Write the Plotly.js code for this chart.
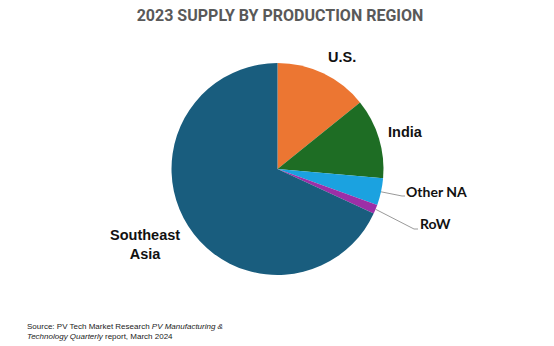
<!DOCTYPE html>
<html>
<head>
<meta charset="utf-8">
<script src="https://cdn.plot.ly/plotly-3.0.1.min.js"></script>
<style>html,body{margin:0;padding:0;background:#fff;}#chart{width:554px;height:346px;}</style>
</head>
<body>
<div id="chart"></div>
<script>
const labels = ['U.S.', 'India', 'Other NA', 'RoW', 'Southeast Asia'];
const values = [14.2, 12.2, 4.1, 1.4, 68.1];
const colors = ['#EC7632', '#1E6D24', '#1BA2E0', '#9C2FA7', '#195D7E'];
const titleText = '2023 SUPPLY BY PRODUCTION REGION';
const sourceText = 'Source: PV Tech Market Research <i>PV Manufacturing &amp;<br>Technology Quarterly</i> report, March 2024';

const W = 554, H = 346;
const cx = 277.5, cy = 169, R = 106;
const px = x => x / W;
const py = y => 1 - y / H;

// slice mid-angle edge points computed from the data
const total = values.reduce((a, b) => a + b, 0);
const edge = [];
let cum = 0;
values.forEach(v => {
  const th = 2 * Math.PI * (cum + v / 2) / total;
  edge.push([cx + R * Math.sin(th), cy - R * Math.cos(th)]);
  cum += v;
});

const lineStyle = {color: '#9a9a9a', width: 1};
function leader(i, bx, by, ex) {
  return [
    {type: 'line', xref: 'paper', yref: 'paper', x0: px(edge[i][0]), y0: py(edge[i][1]), x1: px(bx), y1: py(by), line: lineStyle},
    {type: 'line', xref: 'paper', yref: 'paper', x0: px(bx), y0: py(by), x1: px(ex), y1: py(by), line: lineStyle}
  ];
}

const boldA = {family: 'Liberation Sans, Arial, sans-serif', size: 14.5, color: '#111'};
const boldB = {family: 'Lato, sans-serif', size: 14, color: '#111', weight: 'bold'};

function lab(text, x, y, anchor, font) {
  return {text: '<b>' + text + '</b>', xref: 'paper', yref: 'paper', x: px(x), y: py(y),
          xanchor: anchor, yanchor: 'middle', showarrow: false, font: font, align: 'center'};
}

const data = [{
  type: 'pie',
  labels: labels,
  values: values,
  sort: false,
  direction: 'clockwise',
  rotation: 0,
  textinfo: 'none',
  hoverinfo: 'label+percent',
  marker: {colors: colors, line: {width: 0}},
  domain: {x: [px(cx - R), px(cx + R)], y: [py(cy + R), py(cy - R)]},
  showlegend: false
}];

const layout = {
  width: W, height: H,
  margin: {l: 0, r: 0, t: 0, b: 0},
  paper_bgcolor: '#fff',
  plot_bgcolor: '#fff',
  showlegend: false,
  title: {text: '<b>' + titleText + '</b>', x: px(280), xanchor: 'center', y: py(15), yanchor: 'middle',
          font: {family: 'Roboto, sans-serif', size: 16, color: '#595959'}},
  shapes: [].concat(leader(2, 402, 196, 405), leader(3, 414, 229, 418)),
  annotations: [
    lab(labels[0], 342, 57, 'center', boldA),
    lab(labels[1], 405, 132, 'center', boldA),
    lab(labels[2], 404, 192, 'left', boldB),
    lab(labels[3], 418, 223, 'left', boldB),
    lab('Southeast<br>Asia', 145, 244, 'center', boldA),
    {text: sourceText, xref: 'paper', yref: 'paper', x: px(25), y: py(320), xanchor: 'left', yanchor: 'top',
     align: 'left', showarrow: false, font: {family: 'Liberation Sans, Arial, sans-serif', size: 8, color: '#222'}}
  ]
};

Plotly.newPlot('chart', data, layout, {displayModeBar: false, staticPlot: true});
</script>
</body>
</html>
